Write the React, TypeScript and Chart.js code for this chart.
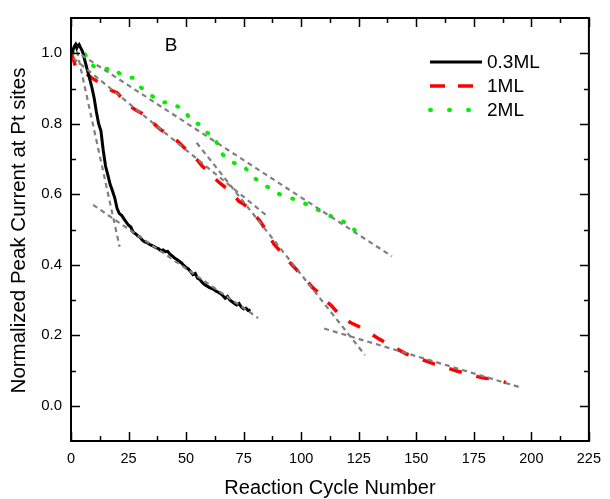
import React, { useEffect, useRef } from "react";
import { Chart, registerables } from "chart.js";

Chart.register(...registerables);

const FONT = '"Liberation Sans", Arial, Helvetica, sans-serif';

const X_TICKS = [0, 25, 50, 75, 100, 125, 150, 175, 200, 225];
const X_MINOR = [12.5, 37.5, 62.5, 87.5, 112.5, 137.5, 162.5, 187.5, 212.5];
const Y_TICKS = [0, 0.2, 0.4, 0.6, 0.8, 1.0];
const Y_MINOR = [0.1, 0.3, 0.5, 0.7, 0.9];

const X_TITLE = "Reaction Cycle Number";
const Y_TITLE = "Normalized Peak Current at Pt sites";
const PANEL_LABEL = "B";

const SERIES_LABELS = ["0.3ML", "1ML", "2ML"];

// 0.3ML (black, solid)
const BLACK_X = [0.5, 1, 1.5, 2, 2.5, 3, 3.5, 4, 5, 6, 7, 8, 9, 10, 11, 12, 13, 14, 15, 16, 17, 18, 19, 20, 21, 22, 23, 24, 25, 26, 27, 28, 29, 30, 31, 32, 33, 34, 35, 36, 37, 38, 39, 40, 41, 42, 43, 44, 45, 46, 47, 48, 49, 50, 51, 52, 53, 54, 55, 56, 57, 58, 59, 60, 61, 62, 63, 64, 65, 66, 67, 68, 69, 70, 71, 72, 73, 74, 75, 76, 77, 78];
const BLACK_Y = [1.0, 1.012, 1.02, 1.025, 1.015, 1.022, 1.025, 1.018, 1.005, 0.98, 0.955, 0.93, 0.905, 0.875, 0.835, 0.8, 0.78, 0.725, 0.68, 0.655, 0.628, 0.61, 0.59, 0.56, 0.545, 0.54, 0.53, 0.521, 0.512, 0.507, 0.492, 0.488, 0.482, 0.478, 0.47, 0.465, 0.463, 0.458, 0.455, 0.452, 0.448, 0.446, 0.44, 0.442, 0.437, 0.438, 0.43, 0.425, 0.419, 0.415, 0.41, 0.405, 0.398, 0.392, 0.388, 0.38, 0.372, 0.375, 0.362, 0.358, 0.35, 0.344, 0.34, 0.336, 0.333, 0.33, 0.325, 0.322, 0.318, 0.312, 0.305, 0.31, 0.3, 0.295, 0.29, 0.286, 0.29, 0.28, 0.275, 0.277, 0.27, 0.272];

// 1ML (red, dashed)
const RED_X = [0, 1, 2, 3, 5, 7, 9, 12, 15, 18, 20, 23, 25, 28, 32, 34, 36, 39, 41, 44, 46, 48, 50, 53, 55, 57, 59, 61, 63, 65, 67, 69, 71, 73, 75, 78, 80, 82, 84, 86, 88, 90, 92, 94, 96, 98, 100, 103, 105, 108, 110, 113, 115, 117, 119, 122, 125, 127, 130, 134, 137, 139, 142, 146, 149, 151, 155, 158, 161, 164, 168, 171, 174, 177, 180, 183, 186, 189];
const RED_Y = [1.0, 0.985, 0.96, 0.955, 0.948, 0.94, 0.93, 0.918, 0.905, 0.893, 0.888, 0.866, 0.852, 0.84, 0.825, 0.808, 0.8, 0.783, 0.775, 0.762, 0.752, 0.74, 0.727, 0.71, 0.696, 0.68, 0.668, 0.655, 0.642, 0.63, 0.62, 0.612, 0.595, 0.58, 0.572, 0.556, 0.54, 0.525, 0.505, 0.484, 0.46, 0.445, 0.43, 0.414, 0.4, 0.386, 0.37, 0.35, 0.335, 0.318, 0.3, 0.285, 0.27, 0.258, 0.245, 0.234, 0.225, 0.217, 0.205, 0.189, 0.178, 0.169, 0.16, 0.146, 0.14, 0.135, 0.125, 0.118, 0.112, 0.106, 0.098, 0.093, 0.087, 0.082, 0.078, 0.076, 0.071, 0.066];

// 2ML (green, dotted)
const GREEN_X = [0.5, 2, 4, 6, 8, 10, 12, 14, 16, 18, 19, 22, 25, 27, 30, 32, 34, 37, 40, 42, 44, 46, 48, 50, 53, 55, 57, 59, 62, 65, 67, 70, 72, 75, 77, 80, 82, 85, 87, 90, 92, 95, 98, 100, 103, 106, 109, 111, 114, 117, 119, 121, 123, 125, 126];
const GREEN_Y = [1.0, 1.005, 1.0, 0.998, 0.975, 0.962, 0.96, 0.958, 0.955, 0.958, 0.95, 0.94, 0.932, 0.93, 0.905, 0.895, 0.885, 0.87, 0.86, 0.862, 0.855, 0.85, 0.845, 0.83, 0.803, 0.8, 0.796, 0.775, 0.766, 0.72, 0.705, 0.692, 0.685, 0.68, 0.665, 0.645, 0.634, 0.622, 0.617, 0.602, 0.596, 0.59, 0.584, 0.578, 0.57, 0.56, 0.551, 0.543, 0.535, 0.527, 0.52, 0.515, 0.5, 0.485, 0.48];

// Linear fit segments (gray dashed): [x0, y0, x1, y1]
const FIT_03_A = [2.6, 1.006, 21.1, 0.451];
const FIT_03_B = [9.6, 0.57, 81.3, 0.249];
const FIT_1_A = [1, 0.986, 84.7, 0.541];
const FIT_1_B = [54.6, 0.746, 127.7, 0.144];
const FIT_1_C = [110, 0.219, 195.3, 0.052];
const FIT_2 = [4.6, 0.995, 139.4, 0.424];
const FITS = [FIT_03_A, FIT_03_B, FIT_1_A, FIT_1_B, FIT_1_C, FIT_2];

const zip = (xs: number[], ys: number[]) => xs.map((x, i) => ({ x, y: ys[i] }));

const framePlugin = {
  id: "framePlugin",
  afterDatasetsDraw(chart: any) {
    const { ctx, chartArea } = chart;
    const { left, right, top, bottom } = chartArea;
    const xs = chart.scales.x;
    const ys = chart.scales.y;
    ctx.save();
    ctx.setLineDash([]);
    ctx.strokeStyle = "#000";
    ctx.lineWidth = 1.5;
    const tick = (x0: number, y0: number, x1: number, y1: number) => {
      ctx.beginPath();
      ctx.moveTo(x0, y0);
      ctx.lineTo(x1, y1);
      ctx.stroke();
    };
    const MAJ = 9;
    const MIN = 5;
    X_TICKS.forEach((v) => {
      const p = Math.round(xs.getPixelForValue(v)) + 0.5;
      tick(p, bottom, p, bottom - MAJ);
      tick(p, top, p, top + MAJ);
    });
    X_MINOR.forEach((v) => {
      const p = Math.round(xs.getPixelForValue(v)) + 0.5;
      tick(p, bottom, p, bottom - MIN);
      tick(p, top, p, top + MIN);
    });
    Y_TICKS.forEach((v) => {
      const p = Math.round(ys.getPixelForValue(v)) + 0.5;
      tick(left, p, left + MAJ, p);
      tick(right, p, right - MAJ, p);
    });
    Y_MINOR.forEach((v) => {
      const p = Math.round(ys.getPixelForValue(v)) + 0.5;
      tick(left, p, left + MIN, p);
      tick(right, p, right - MIN, p);
    });
    ctx.lineWidth = 2;
    ctx.strokeRect(left, top, right - left, bottom - top);
    ctx.restore();
  },
  afterDraw(chart: any) {
    const { ctx, chartArea } = chart;
    const { left, right, top, bottom } = chartArea;
    const xs = chart.scales.x;
    const ys = chart.scales.y;
    ctx.save();
    ctx.fillStyle = "#000";
    // axis titles
    ctx.textAlign = "center";
    ctx.textBaseline = "middle";
    ctx.font = `20px ${FONT}`;
    ctx.fillText(X_TITLE, (left + right) / 2, 488);
    ctx.save();
    ctx.translate(19, (top + bottom) / 2 + 1);
    ctx.rotate(-Math.PI / 2);
    ctx.font = `20.5px ${FONT}`;
    ctx.fillText(Y_TITLE, 0, 0);
    ctx.restore();
    // panel label
    ctx.font = `19px ${FONT}`;
    ctx.fillText(PANEL_LABEL, xs.getPixelForValue(43.5), ys.getPixelForValue(1.022));
    // legend
    const ds = chart.data.datasets.filter((d: any) => d.isSeries);
    const lx0 = 430;
    const lx1 = 482;
    const rows = [62, 86, 110];
    ctx.textAlign = "left";
    ctx.font = `19px ${FONT}`;
    ds.forEach((d: any, i: number) => {
      const y = rows[i];
      ctx.save();
      ctx.strokeStyle = d.borderColor;
      ctx.lineWidth = d.borderWidth;
      ctx.lineCap = d.borderCapStyle || "butt";
      ctx.setLineDash(d.legendDash || d.borderDash || []);
      ctx.beginPath();
      ctx.moveTo(lx0, y);
      ctx.lineTo(lx1, y);
      ctx.stroke();
      ctx.restore();
      ctx.fillStyle = "#000";
      ctx.fillText(d.label, 487, y + 1);
    });
    ctx.restore();
  },
};

export default function App() {
  const ref = useRef<HTMLCanvasElement | null>(null);

  useEffect(() => {
    if (!ref.current) return;
    const fitSets = FITS.map((f) => ({
      label: "fit",
      isSeries: false,
      data: [
        { x: f[0], y: f[1] },
        { x: f[2], y: f[3] },
      ],
      borderColor: "#808080",
      borderWidth: 2.2,
      borderDash: [5, 4],
      pointRadius: 0,
      order: 0,
    }));
    const chart = new Chart(ref.current, {
      type: "line",
      data: {
        datasets: [
          {
            label: SERIES_LABELS[0],
            isSeries: true,
            data: zip(BLACK_X, BLACK_Y),
            borderColor: "#000000",
            borderWidth: 3,
            pointRadius: 0,
            order: 1,
          } as any,
          {
            label: SERIES_LABELS[1],
            isSeries: true,
            data: zip(RED_X, RED_Y),
            borderColor: "#ff0000",
            borderWidth: 3.5,
            borderDash: [13, 15],
            legendDash: [15, 13],
            pointRadius: 0,
            order: 1,
          } as any,
          {
            label: SERIES_LABELS[2],
            isSeries: true,
            data: zip(GREEN_X, GREEN_Y),
            borderColor: "#00f000",
            borderWidth: 4,
            borderDash: [1, 13],
            legendDash: [1, 18],
            borderCapStyle: "round",
            pointRadius: 0,
            order: 1,
          } as any,
          ...(fitSets as any[]),
        ],
      },
      options: {
        animation: false,
        responsive: false,
        devicePixelRatio: 1,
        layout: { padding: { top: 14, right: 16, left: 0, bottom: 0 } },
        plugins: {
          legend: { display: false },
          tooltip: { enabled: false },
        },
        elements: { line: { tension: 0 } },
        scales: {
          x: {
            type: "linear",
            min: 0,
            max: 225,
            grid: { display: false, drawTicks: false },
            border: { display: false },
            afterBuildTicks: (s: any) => {
              s.ticks = X_TICKS.map((v) => ({ value: v }));
            },
            afterFit: (s: any) => {
              s.height = 58;
            },
            ticks: {
              color: "#000",
              padding: 9,
              maxRotation: 0,
              autoSkip: false,
              font: { family: FONT, size: 14.5 },
              callback: (v: any) => String(v),
            },
          },
          y: {
            type: "linear",
            min: -0.1,
            max: 1.1,
            grid: { display: false, drawTicks: false },
            border: { display: false },
            afterBuildTicks: (s: any) => {
              s.ticks = Y_TICKS.map((v) => ({ value: v }));
            },
            afterFit: (s: any) => {
              s.width = 71;
            },
            ticks: {
              color: "#000",
              padding: 9,
              autoSkip: false,
              font: { family: FONT, size: 15 },
              callback: (v: any) => Number(v).toFixed(1),
            },
          },
        },
      },
      plugins: [framePlugin],
    } as any);
    return () => chart.destroy();
  }, []);

  return (
    <div style={{ position: "absolute", left: 0, top: 0, width: 610, height: 499, background: "#fff" }}>
      <canvas ref={ref} width={610} height={499} style={{ width: 610, height: 499, display: "block" }} />
    </div>
  );
}
